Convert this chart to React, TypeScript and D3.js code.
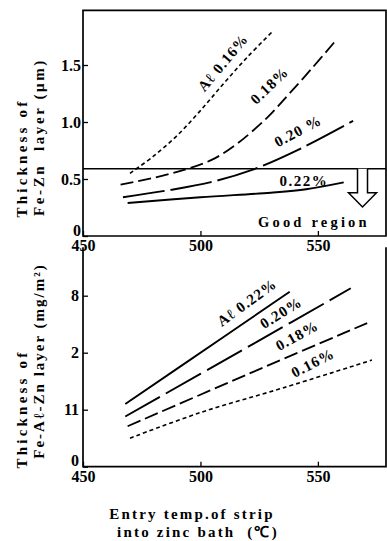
import { useRef, useEffect } from 'react';
import * as d3 from 'd3';

// axis ticks
const xTicks = [450, 500, 550];
const topYTicks = [0, 0.5, 1.0, 1.5];
const topYTickLabels = ['0', '0.5', '1.0', '1.5'];
const botYTicks = [0, 1, 2, 3];
const botYTickLabels = ['0', '11', '2', '8'];

// top panel: Fe-Zn layer thickness (um)
const fz016Temp = [470, 480, 490, 500, 510, 520, 531];
const fz016Val = [0.55, 0.7, 0.88, 1.1, 1.34, 1.57, 1.8];
const fz018Temp = [466, 480, 493, 505, 515, 528, 537, 547, 557];
const fz018Val = [0.45, 0.51, 0.58, 0.67, 0.8, 1.03, 1.23, 1.46, 1.7];
const fz020Temp = [467, 486, 504, 522, 540, 565];
const fz020Val = [0.34, 0.4, 0.47, 0.58, 0.74, 1.01];
const fz022Temp = [469, 500, 530, 545, 561];
const fz022Val = [0.29, 0.34, 0.38, 0.41, 0.47];
const goodLimit = 0.59;

// bottom panel: Fe-Al-Zn layer thickness
const faz022Temp = [468, 510, 538];
const faz022Val = [1.1, 2.28, 3.07];
const faz020Temp = [468, 524, 564];
const faz020Val = [0.88, 2.19, 3.13];
const faz018Temp = [469, 520, 571];
const faz018Val = [0.71, 1.62, 2.52];
const faz016Temp = [470, 500, 535, 573];
const faz016Val = [0.5, 0.95, 1.38, 1.87];

const FONT = '"Liberation Serif", "Times New Roman", serif';

export default function App() {
  const ref = useRef<SVGSVGElement>(null);

  useEffect(() => {
    if (!ref.current) return;
    const svg = d3.select(ref.current);
    svg.selectAll('*').remove();

    const x = d3.scaleLinear().domain([450, 579]).range([83, 386]);
    const yTop = d3.scaleLinear().domain([0, 1.5]).range([236, 65]);
    const yBot = d3.scaleLinear().domain([0, 3]).range([466.7, 295.7]);

    const topMax = 1.98;
    const botMax = 3.85;

    // frames
    svg.append('path')
      .attr('d', `M${x(450)},${yTop(0)} V${yTop(topMax)} H${x(579)} V${yTop(0)} Z`)
      .attr('fill', 'none').attr('stroke', '#000').attr('stroke-width', 1.7);
    svg.append('path')
      .attr('d', `M${x(450)},${yBot(botMax)} V${yBot(0)} H${x(579)} V${yBot(botMax)}`)
      .attr('fill', 'none').attr('stroke', '#000').attr('stroke-width', 1.7);

    const styleAxis = (g: d3.Selection<SVGGElement, unknown, null, undefined>) => {
      g.select('.domain').remove();
      g.attr('font-family', FONT).attr('font-size', 16).attr('font-weight', 'bold');
      g.selectAll('line').attr('stroke', '#000').attr('stroke-width', 1.3);
      g.selectAll('text').attr('fill', '#000');
    };

    // axes
    svg.append('g').attr('transform', `translate(0,${yTop(0)})`)
      .call(d3.axisBottom(x).tickValues(xTicks).tickSize(-5).tickPadding(4).tickFormat(d3.format('d')))
      .call(styleAxis);
    svg.append('g').attr('transform', `translate(${x(450)},0)`)
      .call(d3.axisLeft(yTop).tickValues(topYTicks).tickSize(-5).tickPadding(2)
        .tickFormat((d, i) => topYTickLabels[i]))
      .call(styleAxis)
      .selectAll<SVGTextElement, number>('text')
      .filter(d => d === 0)
      .attr('y', -6);
    svg.append('g').attr('transform', `translate(0,${yBot(0)})`)
      .call(d3.axisBottom(x).tickValues(xTicks).tickSize(-5).tickPadding(4).tickFormat(d3.format('d')))
      .call(styleAxis);
    svg.append('g').attr('transform', `translate(${x(450)},0)`)
      .call(d3.axisLeft(yBot).tickValues(botYTicks).tickSize(-5).tickPadding(4)
        .tickFormat((d, i) => botYTickLabels[i]))
      .call(styleAxis)
      .selectAll<SVGTextElement, number>('text')
      .filter(d => d === 0)
      .attr('y', -6);

    const drawCurve = (temps: number[], vals: number[], y: d3.ScaleLinear<number, number>, dash: string | null, w: number) => {
      const line = d3.line<number>()
        .x((_, i) => x(temps[i]))
        .y(d => y(d))
        .curve(d3.curveCatmullRom.alpha(0.5));
      svg.append('path')
        .attr('d', line(vals))
        .attr('fill', 'none')
        .attr('stroke', '#000')
        .attr('stroke-width', w)
        .attr('stroke-dasharray', dash);
    };

    // top curves
    drawCurve(fz016Temp, fz016Val, yTop, '4,3', 1.6);
    drawCurve(fz018Temp, fz018Val, yTop, '13,5', 1.8);
    drawCurve(fz020Temp, fz020Val, yTop, '42,6', 1.9);
    drawCurve(fz022Temp, fz022Val, yTop, null, 1.9);

    // bottom curves
    drawCurve(faz016Temp, faz016Val, yBot, '4,3', 1.6);
    drawCurve(faz018Temp, faz018Val, yBot, '14,5', 1.8);
    drawCurve(faz020Temp, faz020Val, yBot, '40,7', 1.9);
    drawCurve(faz022Temp, faz022Val, yBot, null, 1.9);

    // good-region limit and arrow
    svg.append('line')
      .attr('x1', x(450)).attr('x2', x(579))
      .attr('y1', yTop(goodLimit)).attr('y2', yTop(goodLimit))
      .attr('stroke', '#000').attr('stroke-width', 1.7);
    const cx = x(569);
    const y1 = yTop(goodLimit);
    const yh = yTop(0.38);
    const yt = yTop(0.255);
    svg.append('path')
      .attr('d', `M${cx - 5},${y1} V${yh} H${cx - 14} L${cx},${yt} L${cx + 14},${yh} H${cx + 5} V${y1}`)
      .attr('fill', '#fff').attr('stroke', '#000').attr('stroke-width', 1.5);

    const label = (t: string, px: number, py: number, rot: number, size: number, spacing: number) => {
      svg.append('text')
        .attr('transform', `translate(${px},${py}) rotate(${rot})`)
        .attr('text-anchor', 'middle')
        .attr('dominant-baseline', 'central')
        .attr('font-family', FONT)
        .attr('font-weight', 'bold')
        .attr('font-size', size)
        .attr('letter-spacing', spacing)
        .style('white-space', 'pre')
        .attr('fill', '#000')
        .text(t);
    };

    // curve labels, top
    label('Aℓ 0.16%', x(509.6), yTop(1.52), -50, 15, 1);
    label('0.18%', x(529.4), yTop(1.32), -44, 15, 1);
    label('0.20 %', x(541.5), yTop(0.92), -28, 15, 1);
    label('0.22%', x(544), yTop(0.48), 0, 15, 1.5);
    label('Good region', x(548.3), yTop(0.12), 0, 14.5, 3.2);

    // curve labels, bottom
    label('Aℓ 0.22%', x(519.8), yBot(2.88), -36, 15, 1);
    label('0.20%', x(534.3), yBot(2.7), -32, 15, 1);
    label('0.18%', x(541.1), yBot(2.3), -29, 15, 1);
    label('0.16%', x(547.9), yBot(1.82), -27, 15, 1);

    // axis titles
    label('Thickness of', 22, 158, -90, 15, 3.2);
    label('Fe-Zn  layer (μm)', 39, 137, -90, 15, 2.6);
    label('Thickness of', 22, 409, -90, 15, 3.2);
    label('Fe-Aℓ-Zn layer (mg/m²)', 39, 361, -90, 15, 2);
    label('Entry temp.of strip', 192, 514, 0, 15, 2.2);
    label('into zinc bath  (℃)', 198, 532, 0, 15, 2.2);
  }, []);

  return (
    <svg
      ref={ref}
      width={387}
      height={541}
      style={{ position: 'absolute', left: 0, top: 0, background: '#fff' }}
    />
  );
}
